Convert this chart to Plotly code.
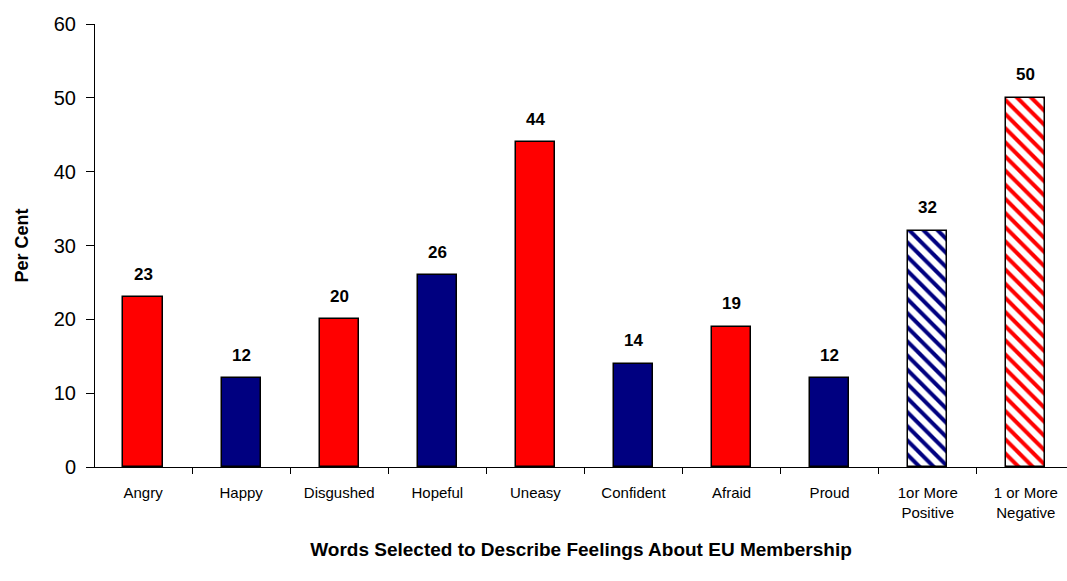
import plotly.graph_objects as go

categories = ["Angry", "Happy", "Disgushed", "Hopeful", "Uneasy", "Confident",
              "Afraid", "Proud", "1or More<br>Positive", "1 or More<br>Negative"]
values = [23, 12, 20, 26, 44, 14, 19, 12, 32, 50]
bar_colors = ["#FF0000", "#000080", "#FF0000", "#000080", "#FF0000", "#000080",
              "#FF0000", "#000080", "#000080", "#FF0000"]
pattern_shapes = ["", "", "", "", "", "", "", "", "\\", "\\"]
y_ticks = [0, 10, 20, 30, 40, 50, 60]

FONT = "Liberation Sans, Arial, sans-serif"

fig = go.Figure()
fig.add_trace(go.Bar(
    x=categories, y=values, width=0.4,
    marker=dict(
        color=bar_colors,
        line=dict(color="black", width=1.5),
        pattern=dict(shape=pattern_shapes, bgcolor="#FFFFFF",
                     size=10, solidity=0.4, fillmode="replace"),
    ),
    hoverinfo="skip",
))

for c, v in zip(categories, values):
    fig.add_annotation(x=c, y=v, text=f"<b>{v}</b>", showarrow=False,
                       yshift=23, yanchor="middle",
                       font=dict(family=FONT, size=17, color="black"))

fig.update_layout(
    width=1067, height=581,
    margin=dict(l=95, r=0, t=24, b=114),
    paper_bgcolor="white", plot_bgcolor="white",
    showlegend=False,
    bargap=0,
)
fig.update_xaxes(
    range=[-0.49, 9.42],
    showline=True, linecolor="black", linewidth=1,
    ticks="outside", tickson="boundaries", ticklen=6, tickcolor="black",
    ticklabelstandoff=12,
    tickfont=dict(family=FONT, size=15, color="black"),
    title=dict(text="<b>Words Selected to Describe Feelings About EU Membership</b>",
               font=dict(family=FONT, size=19, color="black"), standoff=23),
    showgrid=False,
)
fig.update_yaxes(
    range=[0, 60], tickvals=y_ticks,
    showline=True, linecolor="black", linewidth=1,
    ticks="outside", ticklen=8, tickcolor="black",
    ticklabelstandoff=6,
    tickfont=dict(family=FONT, size=20, color="black"),
    title=dict(text="<b>Per Cent</b>", font=dict(family=FONT, size=18, color="black"),
               standoff=20),
    showgrid=False, zeroline=False,
)

fig.write_html("out.html")
